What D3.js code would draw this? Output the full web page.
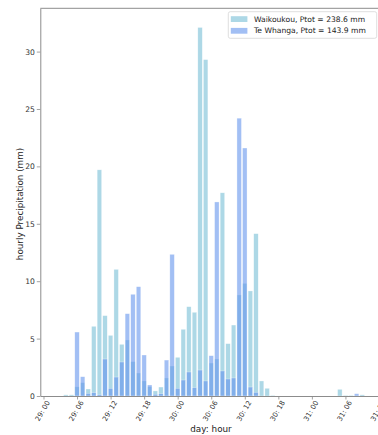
<!DOCTYPE html>
<html>
<head>
<meta charset="utf-8">
<script src="https://cdn.jsdelivr.net/npm/d3@7"></script>
<style>
  body { margin: 0; background: #fff; }
  text { font-family: "DejaVu Sans", sans-serif; }
</style>
</head>
<body>
<div id="chart"></div>
<script>
// hourly precipitation, one value per hour starting at day 29 00:00
const waikoukou = [0, 0, 0, 0, 0.1, 0.1, 0.8, 1.16, 0.61, 6.07, 19.7, 7.0, 5.28, 11.03, 4.5, 4.88,
  2.99, 2.0, 1.31, 0.81, 0.44, 0.78, 1.57, 2.61, 3.37, 5.81, 7.78, 7.29, 32.1, 29.3, 2.87, 3.22,
  17.7, 4.56, 6.18, 8.8, 9.81, 9.15, 14.14, 1.31, 0.67, 0.05, 0, 0, 0, 0, 0, 0, 0, 0, 0, 0, 0,
  0.58, 0.05, 0.05, 0, 0.1];
const teWhanga = [0, 0, 0, 0, 0, 0, 5.57, 1.68, 0.23, 0.29, 0.12, 3.22, 0.67, 1.65, 2.96, 7.17,
  8.86, 9.52, 3.57, 0.96, 0.15, 0.2, 3.13, 12.34, 0.67, 1.39, 2.09, 0.73, 2.26, 1.31, 3.51, 16.9,
  2.18, 1.48, 1.57, 24.2, 21.6, 0.78, 0.32, 0, 0, 0, 0, 0, 0, 0, 0, 0, 0, 0, 0, 0, 0, 0, 0, 0,
  0.2, 0];
const tickHours = [0, 6, 12, 18, 24, 30, 36, 42, 48, 54, 60];
const tickLabels = ["29: 00", "29: 06", "29: 12", "29: 18", "30: 00", "30: 06", "30: 12",
  "30: 18", "31: 00", "31: 06", "31: 12"];
const yTicks = [0, 5, 10, 15, 20, 25, 30];
const seriesNames = ["Waikoukou, Ptot = 238.6 mm", "Te Whanga, Ptot = 143.9 mm"];

const W = 378, H = 435;
const margin = { top: 8.3, left: 40.3, bottom: 39, right: -3 };
const width = W - margin.left - margin.right;
const height = H - margin.top - margin.bottom;

const svg = d3.select("#chart").append("svg")
  .attr("width", W)
  .attr("height", H);

const g = svg.append("g")
  .attr("transform", `translate(${margin.left}, ${margin.top})`);

const x = d3.scaleLinear().domain([-0.57, 60.36]).range([0, width]);
const y = d3.scaleLinear().domain([0, 33.77]).range([height, 0]);
const barW = x(0.8) - x(0);

const series = [
  { name: seriesNames[0], values: waikoukou, color: "#add8e6", opacity: 1 },
  { name: seriesNames[1], values: teWhanga, color: "#6495ed", opacity: 0.6 }
];

series.forEach(s => {
  g.append("g")
    .selectAll("rect")
    .data(s.values.map((v, i) => ({ hour: i, value: v })).filter(d => d.value > 0))
    .enter().append("rect")
      .attr("x", d => x(d.hour) - barW / 2)
      .attr("width", barW)
      .attr("y", d => y(d.value))
      .attr("height", d => y(0) - y(d.value))
      .attr("fill", s.color)
      .attr("fill-opacity", s.opacity)
      .attr("stroke", "#fff")
      .attr("stroke-opacity", 0.6)
      .attr("stroke-width", 0.5);
});

// axes
const xAxis = g.append("g")
  .attr("transform", `translate(0, ${height})`)
  .call(d3.axisBottom(x).tickValues(tickHours).tickSize(3.5).tickSizeOuter(0).tickFormat(""));
const yAxis = g.append("g")
  .call(d3.axisLeft(y).tickValues(yTicks).tickSize(3.5).tickSizeOuter(0).tickPadding(2));

[xAxis, yAxis].forEach(a => {
  a.select(".domain").attr("stroke", "#8c8c8c").attr("stroke-width", 1);
  a.selectAll(".tick line").attr("stroke", "#8c8c8c").attr("stroke-width", 0.8);
  a.selectAll(".tick text").attr("fill", "#333").style("font-size", "7.6px")
    .style("font-family", "DejaVu Sans, sans-serif");
});

// top spine
g.append("line")
  .attr("x1", 0).attr("x2", width)
  .attr("y1", 0).attr("y2", 0)
  .attr("stroke", "#8c8c8c");

// rotated x tick labels
g.append("g").selectAll("text")
  .data(tickHours)
  .enter().append("text")
    .attr("transform", (d, i) => `translate(${x(d) - 0.5}, ${height + 15}) rotate(-60)`)
    .attr("text-anchor", "middle")
    .attr("dominant-baseline", "central")
    .attr("fill", "#333")
    .style("font-size", "7px")
    .text((d, i) => tickLabels[i]);

svg.append("text")
  .attr("x", 211)
  .attr("y", 432)
  .attr("text-anchor", "middle")
  .attr("fill", "#222")
  .style("font-size", "8.8px")
  .text("day: hour");

svg.append("text")
  .attr("transform", "translate(23, 204) rotate(-90)")
  .attr("text-anchor", "middle")
  .attr("fill", "#222")
  .style("font-size", "8.8px")
  .text("hourly Precipitation (mm)");

// legend
const legend = svg.append("g").attr("transform", "translate(228.3, 11.7)");
legend.append("rect")
  .attr("width", 148.4)
  .attr("height", 26.6)
  .attr("rx", 2)
  .attr("fill", "#fff")
  .attr("fill-opacity", 0.8)
  .attr("stroke", "#d6d6d6")
  .attr("stroke-width", 0.8);

const items = legend.selectAll(".item")
  .data(series)
  .enter().append("g")
    .attr("class", "item")
    .attr("transform", (d, i) => `translate(2.5, ${7.3 + i * 11.7})`);

items.append("rect")
  .attr("x", 0)
  .attr("y", -2.8)
  .attr("width", 16.6)
  .attr("height", 5.8)
  .attr("fill", d => d.color)
  .attr("fill-opacity", d => d.opacity);

items.append("text")
  .attr("x", 23.2)
  .attr("y", 0)
  .attr("dy", "0.35em")
  .attr("fill", "#222")
  .style("font-size", "7.6px")
  .text(d => d.name);
</script>
</body>
</html>
